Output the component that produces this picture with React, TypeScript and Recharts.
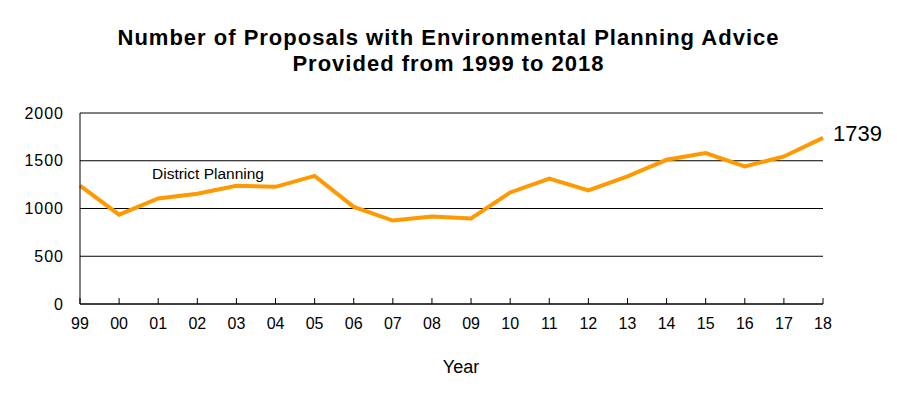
import { LineChart, Line, XAxis, YAxis, CartesianGrid, LabelList, Label } from 'recharts';

const years = ['99', '00', '01', '02', '03', '04', '05', '06', '07', '08', '09', '10', '11', '12', '13', '14', '15', '16', '17', '18'];
const proposals = [1240, 935, 1105, 1155, 1237, 1227, 1342, 1017, 874, 916, 895, 1168, 1314, 1189, 1336, 1510, 1580, 1440, 1545, 1739];
const yTicks = [0, 500, 1000, 1500, 2000];

const data = years.map((year, i) => ({ year, proposals: proposals[i] }));

const FONT = '"Liberation Sans", Arial, sans-serif';
const X_TICK_GAP = 14;

// tick marks point up into the plot, labels sit below the axis
function YearTick(props: any) {
  const { x, y, payload } = props;
  const axisY = y - X_TICK_GAP;
  return (
    <g>
      <line x1={x} x2={x} y1={axisY - 6} y2={axisY} stroke="#000" strokeWidth={1} />
      <text x={x} y={y} dy="0.71em" textAnchor="middle" fontSize={16} fill="#000" fontFamily={FONT}>
        {payload.value}
      </text>
    </g>
  );
}

function LastValueLabel(props: any) {
  const { x, y, index, value } = props;
  if (index !== proposals.length - 1) return null;
  return (
    <text x={x + 10} y={y + 3} fontSize={22} fill="#000" fontFamily={FONT}>
      {value}
    </text>
  );
}

export default function App() {
  return (
    <div style={{ position: 'absolute', left: 0, top: 0, width: 897, height: 395, background: '#fff', fontFamily: FONT }}>
      <div
        style={{
          position: 'absolute',
          left: 0,
          top: 25,
          width: 897,
          textAlign: 'center',
          fontWeight: 'bold',
          fontSize: 22,
          letterSpacing: 1,
          lineHeight: '26px',
          color: '#000',
        }}
      >
        Number of Proposals with Environmental Planning Advice
        <br />
        Provided from 1999 to 2018
      </div>
      <div style={{ position: 'absolute', left: 152, top: 165, fontSize: 15.5, color: '#000' }}>District Planning</div>
      <LineChart width={897} height={395} data={data} margin={{ top: 113, right: 74, bottom: 0, left: 0 }}>
        <CartesianGrid vertical={false} stroke="#000" strokeWidth={1} />
        <XAxis
          dataKey="year"
          interval={0}
          height={91}
          padding={{ left: 0, right: 0 }}
          stroke="#000"
          tickLine={false}
          tickSize={0}
          tickMargin={X_TICK_GAP}
          tick={YearTick}
        >
          <Label value="Year" position="insideTop" offset={56.5} dx={9.5} fill="#000" fontSize={18} fontFamily={FONT} />
        </XAxis>
        <YAxis
          width={80}
          domain={[0, 2000]}
          ticks={yTicks}
          stroke="#000"
          tickLine={false}
          tickSize={0}
          tickMargin={16}
          tick={{ fill: '#000', fontSize: 16, fontFamily: FONT, letterSpacing: 1 }}
        />
        <Line type="linear" dataKey="proposals" stroke="#FF9900" strokeWidth={4} dot={false} isAnimationActive={false}>
          <LabelList dataKey="proposals" content={LastValueLabel} />
        </Line>
      </LineChart>
    </div>
  );
}
